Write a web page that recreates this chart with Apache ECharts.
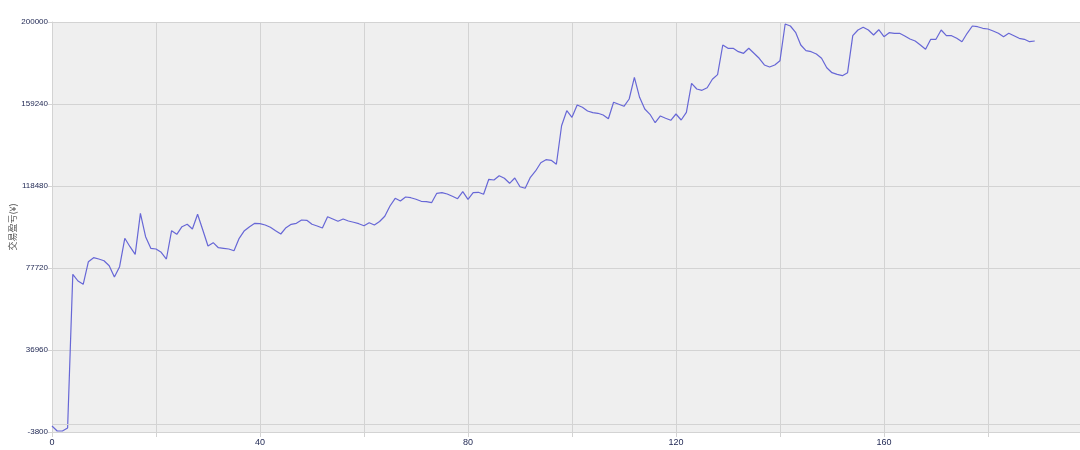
<!DOCTYPE html>
<html><head><meta charset="utf-8">
<script src="https://cdn.jsdelivr.net/npm/echarts@6/dist/echarts.min.js"></script>
<style>html,body{margin:0;padding:0;background:#fff}#c{width:1080px;height:450px}</style>
</head><body><div id="c"></div>
<script>
const pnl = [
-800,-3300,-3300,-1800,74590,71260,69620,80850,82840,82190,
81350,78860,73250,78370,92480,88310,84530,104910,93280,87510,
87170,85520,82190,96260,94470,98250,99440,97110,104410,96610,
88660,90300,87810,87510,87170,86320,92480,96260,98250,99940,
99740,99100,97950,96260,94620,97750,99440,99940,101580,101430,
99440,98600,97600,103220,102080,100930,102080,101080,100440,99740,
98750,100240,99100,100830,103420,108540,112370,111020,113010,112660,
111870,110880,110680,110180,114850,115150,114500,113360,112170,115650,
111870,115150,115350,114350,121810,121460,123600,122310,119820,122460,
118130,117340,122810,125940,130060,131550,131250,129270,148450,155910,
152630,158740,157600,155760,154920,154620,153770,151930,160090,159090,
158100,161730,172510,162570,156750,154120,149940,153280,152130,151140,
154270,151290,155110,169530,166700,166050,167340,171570,173850,188570,
186930,186930,185240,184440,186930,184440,181960,178630,177630,178630,
180760,199010,198010,194880,188570,185730,185240,184090,181960,177280,
174800,174000,173310,174800,193190,196020,197370,196020,193540,196170,
192690,194680,194380,194380,193040,191550,190560,188570,186430,191400,
191400,196020,193190,193190,191900,190210,194380,198010,197660,196870,
196520,195530,194380,192690,194380,193190,191900,191400,190210,190560
];
const yTicks = [-3800, 36960, 77720, 118480, 159240, 200000];
const xTicks = [0, 20, 40, 60, 80, 100, 120, 140, 160, 180];
const xLabels = [0, 40, 80, 120, 160];
const yName = '交易盈亏(¥)';

const chart = echarts.init(document.getElementById('c'), null, {renderer: 'canvas'});
const gridColor = '#d3d3d3';
const labelColor = '#1c2450';
chart.setOption({
  animation: false,
  backgroundColor: '#ffffff',
  grid: {left: 52, right: 0, top: 22, bottom: 18, show: true, backgroundColor: '#efefef', borderWidth: 0,
         containLabel: false, outerBoundsMode: 'none'},
  xAxis: {
    type: 'value', min: 0, max: 197.7,
    axisLine: {show: false, onZero: false},
    axisTick: {show: true, length: 5, lineStyle: {color: gridColor}, customValues: xTicks},
    axisLabel: {color: labelColor, fontSize: 9, fontFamily: 'Liberation Sans, Arial, sans-serif', margin: 6,
                customValues: xLabels, formatter: v => String(v)},
    splitLine: {show: true, lineStyle: {color: gridColor, width: 1}}
  },
  yAxis: {
    type: 'value', min: -3800, max: 200000,
    name: yName, nameLocation: 'middle', nameRotate: 90, nameGap: 35, nameMoveOverlap: false,
    nameTextStyle: {color: '#555', fontSize: 9, fontFamily: 'Noto Sans CJK SC, sans-serif'},
    axisLine: {show: true, lineStyle: {color: gridColor}},
    axisTick: {show: true, length: 4, lineStyle: {color: gridColor}, customValues: yTicks},
    axisLabel: {color: labelColor, fontSize: 8, fontFamily: 'Liberation Sans, Arial, sans-serif', margin: 4,
                customValues: yTicks, formatter: v => String(v)},
    splitLine: {show: true, lineStyle: {color: gridColor, width: 1}}
  },
  series: [{
    type: 'line',
    data: pnl.map((v, i) => [i, v]),
    showSymbol: false,
    symbol: 'none',
    lineStyle: {color: '#6767d6', width: 1.2},
    markLine: {
      silent: true, symbol: ['none', 'none'], label: {show: false},
      lineStyle: {color: gridColor, type: 'solid', width: 1},
      data: [{yAxis: 0}]
    }
  }]
});
</script>
</body></html>
